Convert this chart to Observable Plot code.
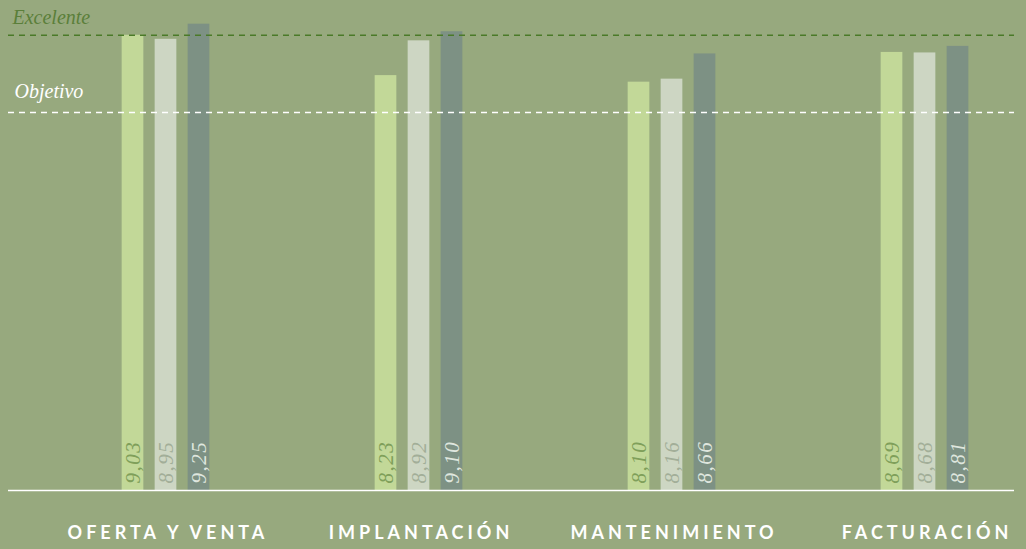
<!DOCTYPE html>
<html>
<head>
<meta charset="utf-8">
<script src="https://cdn.jsdelivr.net/npm/d3@7"></script>
<script src="https://cdn.jsdelivr.net/npm/@observablehq/plot@0.6"></script>
<style>
  html, body { margin: 0; padding: 0; background: #97a97e; }
  #chart svg { display: block; }
</style>
</head>
<body>
<div id="chart"></div>
<script>
const categories = ["OFERTA Y VENTA", "IMPLANTACIÓN", "MANTENIMIENTO", "FACTURACIÓN"];
const series1 = [9.03, 8.23, 8.10, 8.69];
const series2 = [8.95, 8.92, 8.16, 8.68];
const series3 = [9.25, 9.10, 8.66, 8.81];
const valueLabels1 = ["9,03", "8,23", "8,10", "8,69"];
const valueLabels2 = ["8,95", "8,92", "8,16", "8,68"];
const valueLabels3 = ["9,25", "9,10", "8,66", "8,81"];
const excelente = 9.03;
const objetivo = 7.5;

const seriesStyle = [
  {values: series1, labels: valueLabels1, fill: "#c2d898", text: "#7f9f5a", dx: -33},
  {values: series2, labels: valueLabels2, fill: "#cdd6c3", text: "#a2ae98", dx: 0},
  {values: series3, labels: valueLabels3, fill: "#7d9184", text: "#dfe6de", dx: 33}
];

const marks = [];
for (const s of seriesStyle) {
  const rows = categories.map((c, i) => ({category: c, value: s.values[i], label: s.labels[i]}));
  marks.push(Plot.barY(rows, {
    x: "category", y: "value", fill: s.fill, dx: s.dx,
    insetLeft: 115.65, insetRight: 115.65
  }));
  marks.push(Plot.text(rows, {
    x: "category", y: 0, text: "label", rotate: -90, dx: s.dx, dy: -7,
    textAnchor: "start", lineAnchor: "middle", fill: s.text,
    fontFamily: "Liberation Serif", fontStyle: "italic", fontSize: 21
  }));
}
marks.push(Plot.ruleY([0], {stroke: "#ffffff", strokeWidth: 1.5}));
marks.push(Plot.ruleY([excelente], {stroke: "#4a7a28", strokeWidth: 1.5, strokeDasharray: "6,5"}));
marks.push(Plot.ruleY([objetivo], {stroke: "#ffffff", strokeWidth: 1.5, strokeDasharray: "6,5"}));
marks.push(Plot.text(["Excelente"], {
  frameAnchor: "left", y: excelente, text: d => d, dx: 4, dy: -11,
  textAnchor: "start", lineAnchor: "bottom", fill: "#5b7f3a",
  fontFamily: "Liberation Serif", fontStyle: "italic", fontSize: 20
}));
marks.push(Plot.text(["Objetivo"], {
  frameAnchor: "left", y: objetivo, text: d => d, dx: 6, dy: -14,
  textAnchor: "start", lineAnchor: "bottom", fill: "#ffffff",
  fontFamily: "Liberation Serif", fontStyle: "italic", fontSize: 20
}));
marks.push(Plot.text(categories, {
  x: d => d, y: 0, text: d => d, dy: 43, dx: 2, lineAnchor: "middle",
  fill: "#ffffff", fontFamily: "Lato", fontWeight: "bold", fontSize: 18
}));

const chart = Plot.plot({
  width: 1026,
  height: 549,
  marginTop: 0,
  marginBottom: 59,
  marginLeft: 8,
  marginRight: 12,
  style: {background: "#97a97e", overflow: "visible"},
  x: {domain: categories, range: [38.5, 1051.8], padding: 0, axis: null},
  y: {domain: [0, 9.72], axis: null},
  marks
});
const allValueLabels = [...valueLabels1, ...valueLabels2, ...valueLabels3];
d3.select(chart).selectAll("text").each(function() {
  const t = this.textContent;
  if (categories.includes(t)) this.style.letterSpacing = "4px";
  else if (allValueLabels.includes(t)) this.style.letterSpacing = "1.5px";
});
document.getElementById("chart").appendChild(chart);
</script>
</body>
</html>
